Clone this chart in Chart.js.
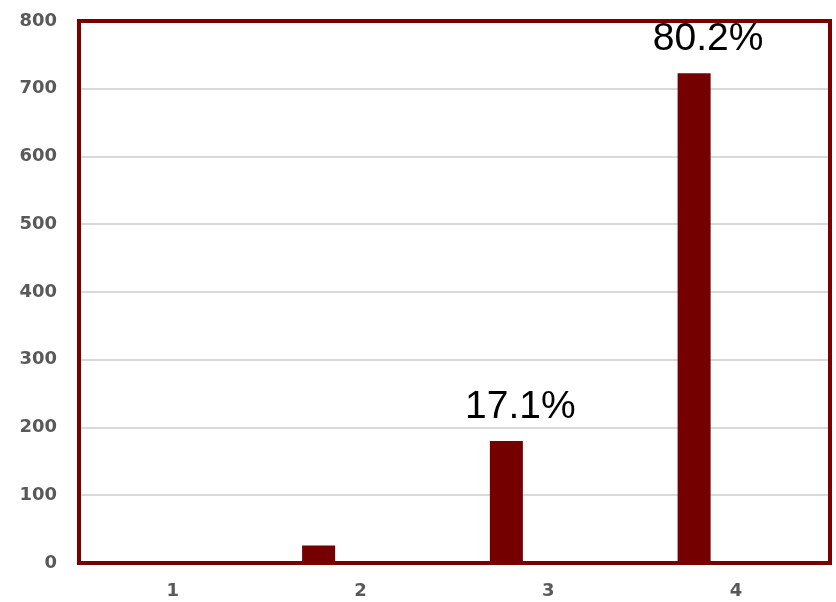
<!DOCTYPE html>
<html>
<head>
<meta charset="utf-8">
<title>Bar chart</title>
<script src="https://cdn.jsdelivr.net/npm/chart.js@4/dist/chart.umd.min.js"></script>
<style>
  html, body { margin: 0; padding: 0; background: #ffffff; }
  #wrap { width: 836px; height: 602px; }
</style>
</head>
<body>
<div id="wrap"><canvas id="chart" width="836" height="602"></canvas></div>
<script>
// Categories along the x axis
const categories = ['1', '2', '3', '4'];
// Counts per category
const counts = [0, 26, 180, 723];
// Second (empty) series that shares each category slot
const companion = [null, null, null, null];
// Share labels written above the bars
const shareLabels = [null, null, '17.1%', '80.2%'];
// Y axis tick range
const yMin = 0, yMax = 800, yStep = 100;

const frameColor = '#7a0000';
const barColor = '#740000';
const tickFont = { family: '"DejaVu Sans", Verdana, sans-serif', size: 18, weight: 'bold' };

// Frame drawn around the plot area
const framePlugin = {
  id: 'plotFrame',
  afterDatasetsDraw(chart) {
    const { ctx, chartArea: a } = chart;
    ctx.save();
    ctx.strokeStyle = frameColor;
    ctx.lineWidth = 4;
    ctx.lineJoin = 'miter';
    ctx.strokeRect(a.left, a.top, a.right - a.left, a.bottom - a.top);
    ctx.restore();
  }
};

// Share labels anchored to each bar's top
const shareLabelPlugin = {
  id: 'shareLabels',
  afterDatasetsDraw(chart) {
    const { ctx } = chart;
    const meta = chart.getDatasetMeta(0);
    ctx.save();
    ctx.font = '39px "Liberation Sans", Arial, sans-serif';
    ctx.fillStyle = '#000000';
    ctx.textAlign = 'center';
    ctx.textBaseline = 'alphabetic';
    meta.data.forEach((bar, i) => {
      const txt = shareLabels[i];
      if (!txt) return;
      ctx.fillText(txt, bar.x + 14, bar.y - 23);
    });
    ctx.restore();
  }
};

new Chart(document.getElementById('chart'), {
  type: 'bar',
  data: {
    labels: categories,
    datasets: [
      {
        label: 'Count',
        data: counts,
        backgroundColor: barColor,
        borderWidth: 0,
        categoryPercentage: 0.895,
        barPercentage: 0.393
      },
      {
        label: 'Share',
        data: companion,
        backgroundColor: barColor,
        borderWidth: 0,
        categoryPercentage: 0.895,
        barPercentage: 0.393
      }
    ]
  },
  options: {
    responsive: false,
    animation: false,
    layout: { padding: { top: 21, right: 6, left: 0, bottom: 0 } },
    plugins: {
      legend: { display: false },
      tooltip: { enabled: false },
      title: { display: false }
    },
    scales: {
      x: {
        offset: true,
        grid: { display: false, drawTicks: false },
        border: { display: false },
        ticks: {
          color: '#595959',
          padding: 18,
          font: tickFont
        },
        afterFit(scale) {
          scale.height = 39;
          scale.paddingLeft = 0;
          scale.paddingRight = 0;
        }
      },
      y: {
        min: yMin,
        max: yMax,
        grid: {
          color: '#d9d9d9',
          lineWidth: 2,
          drawTicks: false
        },
        border: { display: false },
        ticks: {
          stepSize: yStep,
          color: '#595959',
          padding: 22,
          font: tickFont
        },
        afterFit(scale) {
          scale.width = 79;
          scale.paddingTop = 0;
          scale.paddingBottom = 0;
        }
      }
    }
  },
  plugins: [framePlugin, shareLabelPlugin]
});
</script>
</body>
</html>
